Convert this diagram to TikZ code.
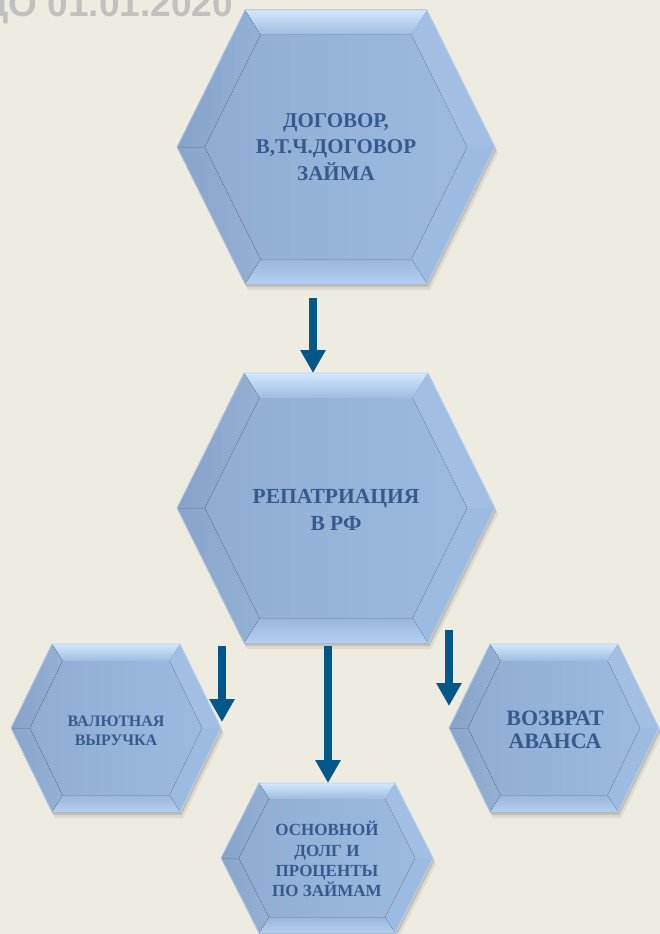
\documentclass[tikz,border=0pt]{standalone}
\usepackage{fontspec}
\setmainfont{Liberation Serif}
\newfontfamily\titlefont{Liberation Sans}
\usetikzlibrary{arrows.meta}
\definecolor{bg}{RGB}{238,235,224}
\definecolor{hexbase}{RGB}{148,176,213}
\definecolor{hexfaceL}{RGB}{144,172,210}
\definecolor{hexfaceR}{RGB}{156,186,223}
\definecolor{hextopA}{RGB}{210,232,252}
\definecolor{hextopB}{RGB}{158,187,224}
\definecolor{hexupr}{RGB}{162,190,227}
\definecolor{hexlwr}{RGB}{157,186,224}
\definecolor{hexbotA}{RGB}{180,207,240}
\definecolor{hexbotB}{RGB}{152,181,219}
\definecolor{hexlwl}{RGB}{136,164,202}
\definecolor{hexupl}{RGB}{134,162,201}
\definecolor{hexedge}{RGB}{185,208,236}
\definecolor{arrowblue}{RGB}{0,88,138}
\definecolor{txtblue}{RGB}{55,90,142}
\definecolor{titlegray}{RGB}{192,192,192}
\tikzset{
  bigarrow/.style={draw=arrowblue, line width=8pt, -{Triangle[width=24pt,length=23pt,fill=arrowblue]}},
  hextext/.style={text=txtblue, align=center, inner sep=0pt},
}
% #1 name, #2 cx, #3 cy, #4 half width, #5 half top width, #6 half height, #7 bevel
\newcommand\hexshape[7]{%
  \pgfmathsetmacro\ihw{#4-1.12*#7}%
  \pgfmathsetmacro\itw{#5-0.62*#7}%
  \pgfmathsetmacro\ihh{#6-#7}%
  \begin{scope}[shift={(#2,#3)}]
    \coordinate (#1-n) at (0,-#6);
    \coordinate (#1-s) at (0,#6);
    \coordinate (#1-w) at (-#4,0);
    \coordinate (#1-e) at (#4,0);
    \fill[black,opacity=.07,xshift=3pt,yshift=-6pt] (-#5,-#6) -- (#5,-#6) -- (#4,0) -- (#5,#6) -- (-#5,#6) -- (-#4,0) -- cycle;
    \fill[black,opacity=.12,xshift=1.5pt,yshift=-3pt] (-#5,-#6) -- (#5,-#6) -- (#4,0) -- (#5,#6) -- (-#5,#6) -- (-#4,0) -- cycle;
    \fill[hexbase] (-#5,-#6) -- (#5,-#6) -- (#4,0) -- (#5,#6) -- (-#5,#6) -- (-#4,0) -- cycle;
    % facets
    \fill[top color=hextopA, bottom color=hextopB] (-#5,-#6) -- (#5,-#6) -- (\itw,-\ihh) -- (-\itw,-\ihh) -- cycle;
    \fill[hexupr] (#5,-#6) -- (#4,0) -- (\ihw,0) -- (\itw,-\ihh) -- cycle;
    \fill[hexlwr] (#4,0) -- (#5,#6) -- (\itw,\ihh) -- (\ihw,0) -- cycle;
    \fill[top color=hexbotB, bottom color=hexbotA] (#5,#6) -- (-#5,#6) -- (-\itw,\ihh) -- (\itw,\ihh) -- cycle;
    \fill[left color=hexlwl, right color=hexbase] (-#5,#6) -- (-#4,0) -- (-\ihw,0) -- (-\itw,\ihh) -- cycle;
    \fill[left color=hexupl, right color=hexbase] (-#4,0) -- (-#5,-#6) -- (-\itw,-\ihh) -- (-\ihw,0) -- cycle;
    \fill[left color=hexfaceL, right color=hexfaceR] (-\itw,-\ihh) -- (\itw,-\ihh) -- (\ihw,0) -- (\itw,\ihh) -- (-\itw,\ihh) -- (-\ihw,0) -- cycle;
    \draw[hexedge, line width=0.8pt, line join=miter] (-#5,-#6) -- (#5,-#6) -- (#4,0) -- (#5,#6) -- (-#5,#6) -- (-#4,0) -- cycle;
  \end{scope}%
}
\begin{document}
\begin{tikzpicture}[x=1pt,y=-1pt]
  \useasboundingbox (0,0) rectangle (660,934);
  \clip (0,0) rectangle (660,934);
  \fill[bg] (0,0) rectangle (660,934);

  \node[anchor=base east, inner sep=0pt, text=titlegray,
        font={\titlefont\bfseries\fontsize{37}{40}\selectfont}] (title) at (233,17) {ДО 01.01.2020};

  \hexshape{h1}{336}{147}{159}{91}{137}{25}
  \hexshape{h2}{336}{508}{159}{92}{135}{25}
  \hexshape{h3}{116}{728}{105}{64}{84}{17}
  \hexshape{h4}{554}{728}{105}{64}{84}{17}
  \hexshape{h5}{327}{858}{106}{68}{75}{16}

  \node[hextext, font={\fontsize{21}{26.5}\selectfont\bfseries}] (t1) at (336,147)
    {ДОГОВОР,\\В,Т.Ч.ДОГОВОР\\ЗАЙМА};
  \node[hextext, font={\fontsize{21.5}{26.5}\selectfont\bfseries}] (t2) at (336,510)
    {РЕПАТРИАЦИЯ\\В РФ};
  \node[hextext, font={\fontsize{16}{19.5}\selectfont\bfseries}] (t3) at (116,731)
    {ВАЛЮТНАЯ\\ВЫРУЧКА};
  \node[hextext, font={\fontsize{22}{23.5}\selectfont\bfseries}] (t4) at (555,730)
    {ВОЗВРАТ\\АВАНСА};
  \node[hextext, font={\fontsize{17}{20.3}\selectfont\bfseries}] (t5) at (327,859)
    {ОСНОВНОЙ\\ДОЛГ И\\ПРОЦЕНТЫ\\ПО ЗАЙМАМ};

  \coordinate (a1s) at (313,298);
  \coordinate (a2s) at (222,646);
  \coordinate (a2e) at (222,722);
  \coordinate (a3s) at (328,646);
  \coordinate (a4s) at (449,630);
  \coordinate (a4e) at (449,706);
  \draw[bigarrow] (a1s) -- (a1s |- h2-n);
  \draw[bigarrow] (a2s) -- (a2e);
  \draw[bigarrow] (a3s) -- (a3s |- h5-n);
  \draw[bigarrow] (a4s) -- (a4e);
\end{tikzpicture}
\end{document}
